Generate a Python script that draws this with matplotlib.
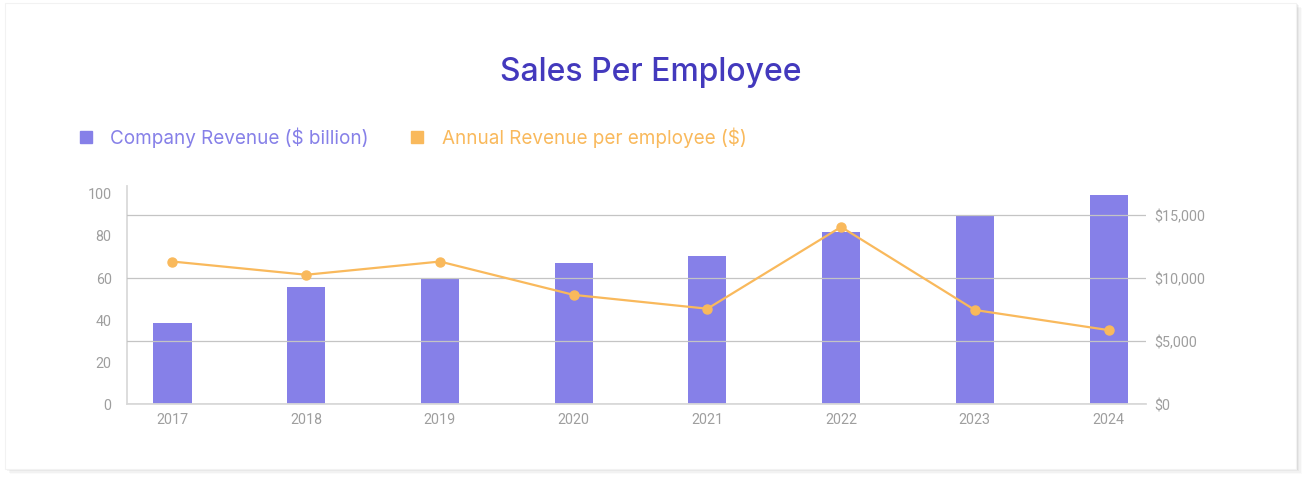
import numpy as np
import matplotlib
matplotlib.use('Agg')
import matplotlib.pyplot as plt
from matplotlib.lines import Line2D
from matplotlib.patches import Rectangle
from matplotlib.ticker import FuncFormatter

years = ['2017', '2018', '2019', '2020', '2021', '2022', '2023', '2024']
revenue_bn = [38, 55.5, 59, 66.5, 70, 81.5, 89, 99]
rev_per_emp = [11300, 10250, 11300, 8650, 7550, 14050, 7450, 5850]

bar_col = '#8680e8'
line_col = '#f9b95c'
title_col = '#4339bd'
tick_col = '#9e9e9e'

fig = plt.figure(figsize=(13.1, 4.85), dpi=100)
fig.patch.set_facecolor('white')

# card with a soft shadow
for i, a in enumerate([0.05, 0.04, 0.03, 0.02]):
    d = (i + 1) * 1.2
    fig.patches.append(Rectangle(((5 + d) / 1310, 1 - (470 + d) / 485), 1292 / 1310, 466 / 485,
                                 transform=fig.transFigure, facecolor='black', alpha=a,
                                 edgecolor='none', zorder=0))
fig.patches.append(Rectangle((5 / 1310, 1 - 470 / 485), 1291 / 1310, 466 / 485,
                             transform=fig.transFigure, facecolor='white',
                             edgecolor='#f2f2f2', lw=0.8, zorder=1))

ax = fig.add_axes([127 / 1310, 1 - 404.7 / 485, (1146 - 127) / 1310, (404.7 - 193.6) / 485])
ax.set_facecolor('none')
ax.set_zorder(2)
ax2 = ax.twinx()
ax2.set_zorder(3)

x = np.arange(len(years))
ax.bar(x, revenue_bn, width=0.285, color=bar_col, zorder=2)
ax.set_ylim(0, 100)
ax.set_yticks([0, 20, 40, 60, 80, 100])
ax.set_xlim(-0.34, 7.28)
ax.set_xticks(x)
ax.set_xticklabels(years)

ax2.plot(x, rev_per_emp, color=line_col, lw=1.6, marker='o', markersize=6.5, zorder=4)
ax2.set_ylim(0, 16780)
ax2.set_yticks([0, 5000, 10000, 15000])
ax2.yaxis.set_major_formatter(FuncFormatter(lambda v, p: '${:,.0f}'.format(v)))
ax2.grid(axis='y', color='#c4c4c4', lw=0.9)
ax2.set_axisbelow(True)

for a in (ax, ax2):
    for s in ['top', 'right', 'left', 'bottom']:
        a.spines[s].set_visible(False)
    a.tick_params(length=0, colors=tick_col, labelsize=10.3)
    for lab in a.get_xticklabels() + a.get_yticklabels():
        lab.set_family('Roboto')
ax.spines['left'].set_visible(True)
ax.spines['left'].set_color('#dadada')
ax.spines['left'].set_linewidth(1.3)
ax.spines['left'].set_bounds(0, 103)
ax.spines['bottom'].set_visible(True)
ax.spines['bottom'].set_color('#dadada')
ax.spines['bottom'].set_linewidth(1.3)
ax.tick_params(axis='y', pad=11)
ax.tick_params(axis='x', pad=6)
ax2.tick_params(axis='y', pad=6)

fig.text(0.497, 1 - 72 / 485, 'Sales Per Employee', ha='center', va='center',
         fontsize=23, color=title_col, family='Inter', weight='medium')

handles = [Line2D([], [], marker='s', ls='none', color=bar_col, markersize=8),
           Line2D([], [], marker='s', ls='none', color=line_col, markersize=8)]
leg = fig.legend(handles, ['Company Revenue ($ billion)', 'Annual Revenue per employee ($)'],
                 loc='center left', bbox_to_anchor=(62 / 1310, 1 - 138 / 485), ncol=2,
                 frameon=False, handlelength=0.7, handletextpad=0.95, columnspacing=2.2,
                 prop={'family': 'Inter', 'size': 13.6})
for t, c in zip(leg.get_texts(), [bar_col, line_col]):
    t.set_color(c)

plt.savefig('out.png', dpi=100)
